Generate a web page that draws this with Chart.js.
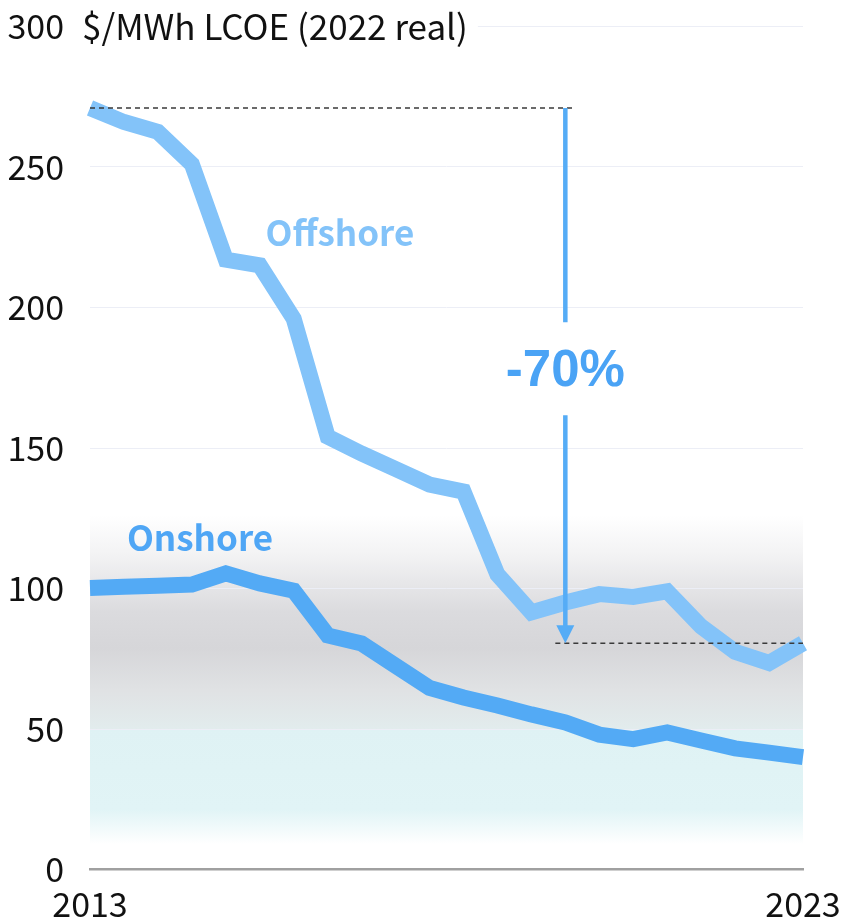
<!DOCTYPE html>
<html>
<head>
<meta charset="utf-8">
<script src="https://cdn.jsdelivr.net/npm/chart.js@4"></script>
<style>
html,body{margin:0;padding:0;background:#fff;}
#wrap{width:843px;height:923px;position:relative;}
</style>
</head>
<body>
<div id="wrap"><canvas id="c" width="843" height="923"></canvas></div>
<script>
// ---- data ----
const periods = ['1H 2013','2H 2013','1H 2014','2H 2014','1H 2015','2H 2015','1H 2016','2H 2016',
  '1H 2017','2H 2017','1H 2018','2H 2018','1H 2019','2H 2019','1H 2020','2H 2020',
  '1H 2021','2H 2021','1H 2022','2H 2022','1H 2023','2H 2023'];
const xTickLabels = ['2013', '2023'];
const yTicks = [0, 50, 100, 150, 200, 250, 300];
const offshore = [271, 266, 262.5, 251, 217, 215, 196, 154, 148, 142.5, 137, 134.5, 105, 91.5, 95, 98, 97, 99, 86.5, 77.5, 73.5, 80.5];
const onshore = [100.2, 100.6, 101, 101.4, 105.4, 101.8, 99.2, 83.3, 80.4, 72.5, 64.6, 61.2, 58.4, 55.2, 52.3, 48, 46.4, 48.8, 45.9, 43.1, 41.6, 40];
const seriesNames = ['Offshore', 'Onshore'];
const unitLabel = '$/MWh LCOE (2022 real)';
const changeLabel = '-70%';

const FONT = '"Noto Sans CJK JP", "Noto Sans", sans-serif';
const OFF_COL = '#83c3f9';
const ON_COL = '#53aaf5';

const bgPlugin = {
  id: 'bg',
  beforeDraw(chart) {
    const {ctx, chartArea: a, scales: {y}} = chart;
    const gTop = y.getPixelForValue(126), gBot = y.getPixelForValue(50);
    const g = ctx.createLinearGradient(0, gTop, 0, gBot);
    g.addColorStop(0, 'rgba(255,255,255,1)');
    g.addColorStop(0.18, '#f3f3f4');
    g.addColorStop(0.45, '#dbdbde');
    g.addColorStop(0.62, '#d6d6d9');
    g.addColorStop(0.82, '#e0e2e4');
    g.addColorStop(1, '#e2eced');
    ctx.save();
    ctx.fillStyle = g;
    ctx.fillRect(a.left, gTop, a.right - a.left, gBot - gTop);
    const cTop = gBot, cBot = y.getPixelForValue(9);
    const g2 = ctx.createLinearGradient(0, cTop, 0, cBot);
    g2.addColorStop(0, '#dff2f4');
    g2.addColorStop(0.7, '#e1f4f6');
    g2.addColorStop(1, 'rgba(255,255,255,1)');
    ctx.fillStyle = g2;
    ctx.fillRect(a.left, cTop, a.right - a.left, cBot - cTop);
    ctx.restore();
  }
};

const annPlugin = {
  id: 'ann',
  beforeDatasetsDraw(chart) {
    const {ctx, chartArea: a, scales: {y}} = chart;
    const yy = y.getPixelForValue(300);
    ctx.save();
    ctx.font = '35px ' + FONT;
    ctx.textBaseline = 'middle';
    ctx.textAlign = 'left';
    const w = ctx.measureText(unitLabel).width;
    ctx.fillStyle = '#fff';
    ctx.fillRect(a.left - 12, yy - 22, w + 14, 44);
    ctx.fillStyle = '#111';
    ctx.fillText(unitLabel, a.left - 8, yy);
    ctx.restore();
  },
  afterDatasetsDraw(chart) {
    const {ctx, scales: {x, y}} = chart;
    const first = offshore[0], last = offshore[offshore.length - 1];
    const ai = 14;
    const ax = x.getPixelForValue(ai);
    ctx.save();
    // dashed reference lines
    ctx.strokeStyle = '#3a3a3a';
    ctx.lineWidth = 1.5;
    ctx.setLineDash([5, 4]);
    ctx.beginPath();
    ctx.moveTo(x.getPixelForValue(0), y.getPixelForValue(first));
    ctx.lineTo(ax + 10, y.getPixelForValue(first));
    ctx.moveTo(ax - 10, y.getPixelForValue(last));
    ctx.lineTo(x.getPixelForValue(offshore.length - 1), y.getPixelForValue(last));
    ctx.stroke();
    ctx.setLineDash([]);
    // arrow
    const tY = y.getPixelForValue(177);
    const top = y.getPixelForValue(first), tip = y.getPixelForValue(last);
    ctx.strokeStyle = '#55acf6';
    ctx.fillStyle = '#55acf6';
    ctx.lineWidth = 4.5;
    ctx.beginPath();
    ctx.moveTo(ax, top);
    ctx.lineTo(ax, tY - 50);
    ctx.moveTo(ax, tY + 43);
    ctx.lineTo(ax, tip - 15);
    ctx.stroke();
    ctx.beginPath();
    ctx.moveTo(ax - 9, tip - 18);
    ctx.lineTo(ax + 9, tip - 18);
    ctx.lineTo(ax, tip);
    ctx.closePath();
    ctx.fill();
    // change label
    ctx.font = 'bold 51px "Liberation Sans", Arial, sans-serif';
    ctx.textAlign = 'center';
    ctx.textBaseline = 'middle';
    ctx.fillStyle = '#4aa3f5';
    ctx.fillText(changeLabel, ax, tY);
    // series labels
    ctx.font = 'bold 35px ' + FONT;
    ctx.fillStyle = OFF_COL;
    ctx.fillText(seriesNames[0], x.getPixelForValue(7.36), y.getPixelForValue(226.5));
    ctx.fillStyle = '#4fa6f5';
    ctx.fillText(seriesNames[1], x.getPixelForValue(3.24), y.getPixelForValue(118));
    ctx.restore();
  }
};

new Chart(document.getElementById('c'), {
  type: 'line',
  data: {
    labels: periods,
    datasets: [
      {label: seriesNames[1], data: onshore, borderColor: ON_COL, borderWidth: 16, pointRadius: 0, tension: 0, borderCapStyle: 'butt', borderJoinStyle: 'miter'},
      {label: seriesNames[0], data: offshore, borderColor: OFF_COL, borderWidth: 16, pointRadius: 0, tension: 0, borderCapStyle: 'butt', borderJoinStyle: 'miter'}
    ]
  },
  options: {
    responsive: false,
    animation: false,
    layout: {padding: {top: 26.5, right: 40, left: 0, bottom: 0}},
    plugins: {legend: {display: false}, tooltip: {enabled: false}},
    scales: {
      x: {
        type: 'category',
        offset: false,
        grid: {display: false, drawTicks: false},
        border: {display: true, color: '#a0a0a0', width: 2.5},
        ticks: {
          autoSkip: false, maxRotation: 0, padding: 18,
          color: '#111', font: {family: FONT, size: 34, lineHeight: 1},
          callback: (v, i) => i === 0 ? xTickLabels[0] : (i === periods.length - 1 ? xTickLabels[1] : '')
        },
        afterFit: s => { s.height = 53.5; s.paddingLeft = 0; s.paddingRight = 0; }
      },
      y: {
        min: 0, max: 300,
        afterBuildTicks: s => { s.ticks = yTicks.map(v => ({value: v})); },
        grid: {color: '#eceef6', lineWidth: 1, drawTicks: false},
        border: {display: false},
        ticks: {padding: 26, color: '#111', font: {family: FONT, size: 34, lineHeight: 1}},
        afterFit: s => { s.width = 90; s.paddingTop = 0; s.paddingBottom = 0; }
      }
    }
  },
  plugins: [bgPlugin, annPlugin]
});
</script>
</body>
</html>
